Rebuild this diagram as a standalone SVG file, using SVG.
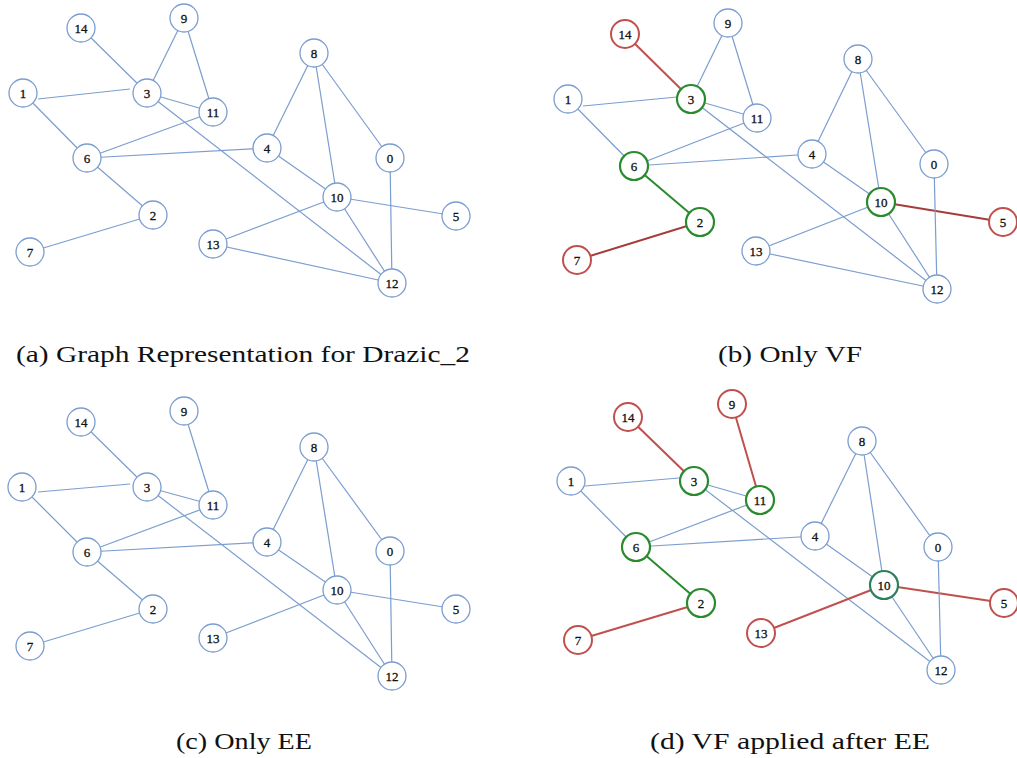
<svg xmlns="http://www.w3.org/2000/svg" width="1017" height="758" viewBox="0 0 1017 758">
  <style>
    .e { stroke: #7b9dcf; stroke-width: 1.2; fill: none; }
    .er { stroke: #c0504d; stroke-width: 2; fill: none; }
    .ed { stroke: #a53c3a; stroke-width: 2; fill: none; }
    .eg { stroke: #2a8a2e; stroke-width: 2; fill: none; }
    .n circle { fill: #ffffff; stroke: #7b9dcf; stroke-width: 1.3; }
    .n.r circle { stroke: #c0504d; stroke-width: 2; }
    .n.g circle { stroke: #2a8a2e; stroke-width: 2.2; }
    .n.t circle { stroke: #2e7f5c; stroke-width: 2.2; }
    .n text { font-family: "Liberation Serif", "DejaVu Serif", serif; font-size: 13px; fill: #111111; stroke: #111111; stroke-width: 0.3; text-anchor: middle; }
    .cap { font-family: "Liberation Serif", "DejaVu Serif", serif; font-size: 24px; fill: #111111; }
  </style>
  <rect width="1017" height="758" fill="#ffffff"/>

  <!-- (a) full graph -->
  <g id="panel-a">
    <g id="edges-a">
      <line class="e" x1="81" y1="28" x2="147" y2="93"/>
      <line class="e" x1="184" y1="18" x2="147" y2="93"/>
      <line class="e" x1="184" y1="18" x2="213" y2="112"/>
      <line class="e" x1="38" y1="99" x2="130" y2="89"/>
      <line class="e" x1="23" y1="93" x2="87" y2="158"/>
      <line class="e" x1="147" y1="93" x2="213" y2="112"/>
      <line class="e" x1="147" y1="93" x2="392" y2="283"/>
      <line class="e" x1="213" y1="112" x2="87" y2="158"/>
      <line class="e" x1="87" y1="158" x2="267" y2="148"/>
      <line class="e" x1="87" y1="158" x2="153" y2="215"/>
      <line class="e" x1="153" y1="215" x2="30" y2="252"/>
      <line class="e" x1="314" y1="53" x2="267" y2="148"/>
      <line class="e" x1="314" y1="53" x2="337" y2="197"/>
      <line class="e" x1="314" y1="53" x2="390" y2="158"/>
      <line class="e" x1="267" y1="148" x2="337" y2="197"/>
      <line class="e" x1="337" y1="197" x2="456" y2="216"/>
      <line class="e" x1="337" y1="197" x2="213" y2="244"/>
      <line class="e" x1="337" y1="197" x2="392" y2="283"/>
      <line class="e" x1="213" y1="244" x2="392" y2="283"/>
      <line class="e" x1="390" y1="158" x2="392" y2="283"/>
    </g>
    <g id="a-n0" class="n"><circle cx="390" cy="158" r="14"/><text x="390" y="162.5">0</text></g>
    <g id="a-n1" class="n"><circle cx="23" cy="93" r="14"/><text x="23" y="97.5">1</text></g>
    <g id="a-n2" class="n"><circle cx="153" cy="215" r="14"/><text x="153" y="219.5">2</text></g>
    <g id="a-n3" class="n"><circle cx="147" cy="93" r="14"/><text x="147" y="97.5">3</text></g>
    <g id="a-n4" class="n"><circle cx="267" cy="148" r="14"/><text x="267" y="152.5">4</text></g>
    <g id="a-n5" class="n"><circle cx="456" cy="216" r="14"/><text x="456" y="220.5">5</text></g>
    <g id="a-n6" class="n"><circle cx="87" cy="158" r="14"/><text x="87" y="162.5">6</text></g>
    <g id="a-n7" class="n"><circle cx="30" cy="252" r="14"/><text x="30" y="256.5">7</text></g>
    <g id="a-n8" class="n"><circle cx="314" cy="53" r="14"/><text x="314" y="57.5">8</text></g>
    <g id="a-n9" class="n"><circle cx="184" cy="18" r="14"/><text x="184" y="22.5">9</text></g>
    <g id="a-n10" class="n"><circle cx="337" cy="197" r="14"/><text x="337" y="201.5">10</text></g>
    <g id="a-n11" class="n"><circle cx="213" cy="112" r="14"/><text x="213" y="116.5">11</text></g>
    <g id="a-n12" class="n"><circle cx="392" cy="283" r="14"/><text x="392" y="287.5">12</text></g>
    <g id="a-n13" class="n"><circle cx="213" cy="244" r="14"/><text x="213" y="248.5">13</text></g>
    <g id="a-n14" class="n"><circle cx="81" cy="28" r="14"/><text x="81" y="32.5">14</text></g>
    <text class="cap" x="16" y="362" textLength="454" lengthAdjust="spacingAndGlyphs">(a) Graph Representation for Drazic_2</text>
  </g>

  <!-- (b) vertex filtering only -->
  <g id="panel-b">
    <g id="edges-b">
      <line class="er" x1="625" y1="34" x2="691" y2="99"/>
      <line class="e" x1="728" y1="23" x2="691" y2="99"/>
      <line class="e" x1="728" y1="23" x2="757" y2="118"/>
      <line class="e" x1="583" y1="106" x2="677" y2="97"/>
      <line class="e" x1="568" y1="99" x2="634" y2="166"/>
      <line class="e" x1="691" y1="99" x2="757" y2="118"/>
      <line class="e" x1="691" y1="99" x2="937" y2="289"/>
      <line class="e" x1="757" y1="118" x2="634" y2="166"/>
      <line class="e" x1="634" y1="166" x2="812" y2="154"/>
      <line class="eg" x1="634" y1="166" x2="700" y2="222"/>
      <line class="ed" x1="700" y1="222" x2="577" y2="260"/>
      <line class="e" x1="858" y1="59" x2="812" y2="154"/>
      <line class="e" x1="858" y1="59" x2="881" y2="202"/>
      <line class="e" x1="858" y1="59" x2="934" y2="164"/>
      <line class="e" x1="812" y1="154" x2="881" y2="202"/>
      <line class="ed" x1="881" y1="202" x2="1003" y2="222"/>
      <line class="e" x1="881" y1="202" x2="756" y2="251"/>
      <line class="e" x1="881" y1="202" x2="937" y2="289"/>
      <line class="e" x1="756" y1="251" x2="937" y2="289"/>
      <line class="e" x1="934" y1="164" x2="937" y2="289"/>
    </g>
    <g id="b-n0" class="n"><circle cx="934" cy="164" r="14"/><text x="934" y="168.5">0</text></g>
    <g id="b-n1" class="n"><circle cx="568" cy="99" r="14"/><text x="568" y="103.5">1</text></g>
    <g id="b-n2" class="n g"><circle cx="700" cy="222" r="14"/><text x="700" y="226.5">2</text></g>
    <g id="b-n3" class="n g"><circle cx="691" cy="99" r="14"/><text x="691" y="103.5">3</text></g>
    <g id="b-n4" class="n"><circle cx="812" cy="154" r="14"/><text x="812" y="158.5">4</text></g>
    <g id="b-n5" class="n r"><circle cx="1003" cy="222" r="14"/><text x="1003" y="226.5">5</text></g>
    <g id="b-n6" class="n g"><circle cx="634" cy="166" r="14"/><text x="634" y="170.5">6</text></g>
    <g id="b-n7" class="n r"><circle cx="577" cy="260" r="14"/><text x="577" y="264.5">7</text></g>
    <g id="b-n8" class="n"><circle cx="858" cy="59" r="14"/><text x="858" y="63.5">8</text></g>
    <g id="b-n9" class="n"><circle cx="728" cy="23" r="14"/><text x="728" y="27.5">9</text></g>
    <g id="b-n10" class="n g"><circle cx="881" cy="202" r="14"/><text x="881" y="206.5">10</text></g>
    <g id="b-n11" class="n"><circle cx="757" cy="118" r="14"/><text x="757" y="122.5">11</text></g>
    <g id="b-n12" class="n"><circle cx="937" cy="289" r="14"/><text x="937" y="293.5">12</text></g>
    <g id="b-n13" class="n"><circle cx="756" cy="251" r="14"/><text x="756" y="255.5">13</text></g>
    <g id="b-n14" class="n r"><circle cx="625" cy="34" r="14"/><text x="625" y="38.5">14</text></g>
    <text class="cap" x="718" y="362" textLength="144" lengthAdjust="spacingAndGlyphs">(b) Only VF</text>
  </g>

  <!-- (c) edge elimination only -->
  <g id="panel-c">
    <g id="edges-c">
      <line class="e" x1="81" y1="422" x2="147" y2="487"/>
      <line class="e" x1="184" y1="411" x2="213" y2="505"/>
      <line class="e" x1="38" y1="492" x2="130" y2="484"/>
      <line class="e" x1="22" y1="487" x2="87" y2="552"/>
      <line class="e" x1="147" y1="487" x2="213" y2="505"/>
      <line class="e" x1="147" y1="487" x2="392" y2="676"/>
      <line class="e" x1="213" y1="505" x2="87" y2="552"/>
      <line class="e" x1="87" y1="552" x2="267" y2="542"/>
      <line class="e" x1="87" y1="552" x2="153" y2="609"/>
      <line class="e" x1="153" y1="609" x2="30" y2="646"/>
      <line class="e" x1="314" y1="447" x2="267" y2="542"/>
      <line class="e" x1="314" y1="447" x2="337" y2="590"/>
      <line class="e" x1="314" y1="447" x2="390" y2="551"/>
      <line class="e" x1="267" y1="542" x2="337" y2="590"/>
      <line class="e" x1="337" y1="590" x2="456" y2="609"/>
      <line class="e" x1="337" y1="590" x2="213" y2="638"/>
      <line class="e" x1="337" y1="590" x2="392" y2="676"/>
      <line class="e" x1="390" y1="551" x2="392" y2="676"/>
    </g>
    <g id="c-n0" class="n"><circle cx="390" cy="551" r="14"/><text x="390" y="555.5">0</text></g>
    <g id="c-n1" class="n"><circle cx="22" cy="487" r="14"/><text x="22" y="491.5">1</text></g>
    <g id="c-n2" class="n"><circle cx="153" cy="609" r="14"/><text x="153" y="613.5">2</text></g>
    <g id="c-n3" class="n"><circle cx="147" cy="487" r="14"/><text x="147" y="491.5">3</text></g>
    <g id="c-n4" class="n"><circle cx="267" cy="542" r="14"/><text x="267" y="546.5">4</text></g>
    <g id="c-n5" class="n"><circle cx="456" cy="609" r="14"/><text x="456" y="613.5">5</text></g>
    <g id="c-n6" class="n"><circle cx="87" cy="552" r="14"/><text x="87" y="556.5">6</text></g>
    <g id="c-n7" class="n"><circle cx="30" cy="646" r="14"/><text x="30" y="650.5">7</text></g>
    <g id="c-n8" class="n"><circle cx="314" cy="447" r="14"/><text x="314" y="451.5">8</text></g>
    <g id="c-n9" class="n"><circle cx="184" cy="411" r="14"/><text x="184" y="415.5">9</text></g>
    <g id="c-n10" class="n"><circle cx="337" cy="590" r="14"/><text x="337" y="594.5">10</text></g>
    <g id="c-n11" class="n"><circle cx="213" cy="505" r="14"/><text x="213" y="509.5">11</text></g>
    <g id="c-n12" class="n"><circle cx="392" cy="676" r="14"/><text x="392" y="680.5">12</text></g>
    <g id="c-n13" class="n"><circle cx="213" cy="638" r="14"/><text x="213" y="642.5">13</text></g>
    <g id="c-n14" class="n"><circle cx="81" cy="422" r="14"/><text x="81" y="426.5">14</text></g>
    <text class="cap" x="176" y="749" textLength="136" lengthAdjust="spacingAndGlyphs">(c) Only EE</text>
  </g>

  <!-- (d) vertex filtering after edge elimination -->
  <g id="panel-d">
    <g id="edges-d">
      <line class="er" x1="628" y1="417" x2="694" y2="481"/>
      <line class="er" x1="732" y1="404" x2="760" y2="500"/>
      <line class="e" x1="585" y1="486" x2="679" y2="478"/>
      <line class="e" x1="571" y1="481" x2="636" y2="547"/>
      <line class="e" x1="694" y1="481" x2="760" y2="500"/>
      <line class="e" x1="694" y1="481" x2="941" y2="670"/>
      <line class="e" x1="760" y1="500" x2="636" y2="547"/>
      <line class="e" x1="636" y1="547" x2="815" y2="536"/>
      <line class="eg" x1="636" y1="547" x2="701" y2="603"/>
      <line class="er" x1="701" y1="603" x2="578" y2="640"/>
      <line class="e" x1="862" y1="441" x2="815" y2="536"/>
      <line class="e" x1="862" y1="441" x2="884" y2="585"/>
      <line class="e" x1="862" y1="441" x2="938" y2="547"/>
      <line class="e" x1="815" y1="536" x2="884" y2="585"/>
      <line class="er" x1="884" y1="585" x2="1004" y2="603"/>
      <line class="er" x1="884" y1="585" x2="761" y2="633"/>
      <line class="e" x1="884" y1="585" x2="941" y2="670"/>
      <line class="e" x1="938" y1="547" x2="941" y2="670"/>
    </g>
    <g id="d-n0" class="n"><circle cx="938" cy="547" r="14"/><text x="938" y="551.5">0</text></g>
    <g id="d-n1" class="n"><circle cx="571" cy="481" r="14"/><text x="571" y="485.5">1</text></g>
    <g id="d-n2" class="n g"><circle cx="701" cy="603" r="14"/><text x="701" y="607.5">2</text></g>
    <g id="d-n3" class="n g"><circle cx="694" cy="481" r="14"/><text x="694" y="485.5">3</text></g>
    <g id="d-n4" class="n"><circle cx="815" cy="536" r="14"/><text x="815" y="540.5">4</text></g>
    <g id="d-n5" class="n r"><circle cx="1004" cy="603" r="14"/><text x="1004" y="607.5">5</text></g>
    <g id="d-n6" class="n g"><circle cx="636" cy="547" r="14"/><text x="636" y="551.5">6</text></g>
    <g id="d-n7" class="n r"><circle cx="578" cy="640" r="14"/><text x="578" y="644.5">7</text></g>
    <g id="d-n8" class="n"><circle cx="862" cy="441" r="14"/><text x="862" y="445.5">8</text></g>
    <g id="d-n9" class="n r"><circle cx="732" cy="404" r="14"/><text x="732" y="408.5">9</text></g>
    <g id="d-n10" class="n t"><circle cx="884" cy="585" r="14"/><text x="884" y="589.5">10</text></g>
    <g id="d-n11" class="n g"><circle cx="760" cy="500" r="14"/><text x="760" y="504.5">11</text></g>
    <g id="d-n12" class="n"><circle cx="941" cy="670" r="14"/><text x="941" y="674.5">12</text></g>
    <g id="d-n13" class="n r"><circle cx="761" cy="633" r="14"/><text x="761" y="637.5">13</text></g>
    <g id="d-n14" class="n r"><circle cx="628" cy="417" r="14"/><text x="628" y="421.5">14</text></g>
    <text class="cap" x="650" y="749" textLength="280" lengthAdjust="spacingAndGlyphs">(d) VF applied after EE</text>
  </g>
</svg>
